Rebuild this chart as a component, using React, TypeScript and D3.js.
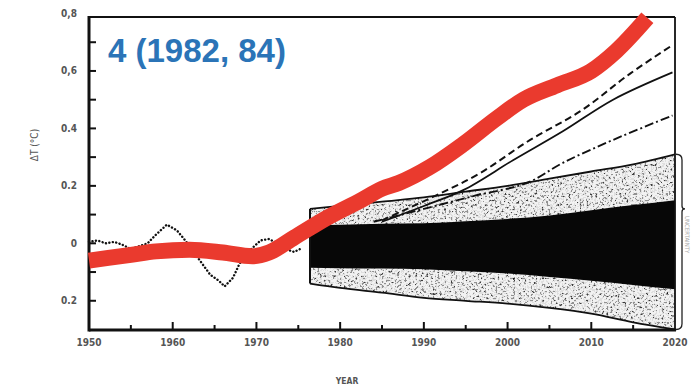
import React from "react";
import * as d3 from "d3";

// Observed temperature record (dotted)
const obsYears = [1950, 1951, 1952, 1953, 1954, 1955, 1956, 1957, 1958, 1959.3, 1960.5, 1961.5, 1962.5, 1963.5, 1964.5, 1965.5, 1966.2, 1967.2, 1968, 1969, 1970.5, 1971.5, 1972.5, 1973.5, 1974.5, 1975.2];
const obsDT = [0.005, 0.01, 0.0, 0.005, -0.005, -0.02, -0.01, 0.0, 0.03, 0.065, 0.045, 0.01, -0.03, -0.07, -0.11, -0.13, -0.15, -0.12, -0.07, -0.03, 0.01, 0.015, 0.0, -0.02, -0.03, -0.02];

// Smoothed overlay trend (red)
const redYears = [1950, 1955, 1958, 1962, 1966, 1969.5, 1971.5, 1974.5, 1978.5, 1982.5, 1985, 1987, 1990.7, 1994.7, 1998.7, 2001.9, 2005.9, 2010, 2013, 2016.7];
const redDT = [-0.06, -0.04, -0.028, -0.022, -0.032, -0.045, -0.032, 0.02, 0.09, 0.15, 0.19, 0.21, 0.265, 0.345, 0.435, 0.5, 0.55, 0.6, 0.67, 0.785];

// Natural-variability fan
const fanYears = [1976.4, 1980, 1985, 1990, 1995, 2000, 2005, 2010, 2015, 2020];
const upperEnv = [0.12, 0.13, 0.145, 0.16, 0.18, 0.2, 0.225, 0.25, 0.275, 0.31];
const blackTop = [0.063, 0.065, 0.068, 0.07, 0.077, 0.085, 0.097, 0.115, 0.133, 0.15];
const blackBottom = [-0.085, -0.087, -0.088, -0.09, -0.097, -0.105, -0.117, -0.13, -0.145, -0.16];
const lowerEnv = [-0.14, -0.155, -0.172, -0.19, -0.2, -0.21, -0.225, -0.245, -0.275, -0.3];

// Projection scenarios
const dashYears = [1985, 1988, 1992, 1996.7, 2002.7, 2008.7, 2014.6, 2019.7];
const dashDT = [0.08, 0.12, 0.174, 0.244, 0.36, 0.46, 0.59, 0.69];
const solidYears = [1985, 1990, 1994.7, 2000.7, 2006.6, 2012.6, 2019.7];
const solidDT = [0.075, 0.13, 0.185, 0.29, 0.39, 0.5, 0.595];
const dashDotYears = [1984, 1990, 1996, 2002.3, 2006.6, 2012.6, 2019.7];
const dashDotDT = [0.075, 0.12, 0.165, 0.21, 0.28, 0.36, 0.445];

// Axis labels
const yTickValues = [0.8, 0.6, 0.4, 0.2, 0, -0.2];
const yTickLabels = ["0,8", "0,6", "0.4", "0.2", "0", "0.2"];
const xTickValues = [1950, 1960, 1970, 1980, 1990, 2000, 2010, 2020];
const xTickLabels = ["1950", "1960", "1970", "1980", "1990", "2000", "2010", "2020"];

const W = 692;
const H = 391;
const LEFT = 89;
const RIGHT = 675;
const TOP = 17;
const BOTTOM = 330;

export default function App() {
  const x = d3.scaleLinear().domain([1950, 2020]).range([LEFT, RIGHT]);
  const y = d3.scaleLinear().domain([-0.3, 0.8]).range([329.5, 13.5]);

  const line = (xs: number[], ys: number[], curve: any = d3.curveCatmullRom) =>
    d3
      .line<number>()
      .x((_, i) => x(xs[i]))
      .y((d) => y(d))
      .curve(curve)(ys) || "";

  const band = (lo: number[], hi: number[]) =>
    d3
      .area<number>()
      .x((_, i) => x(fanYears[i]))
      .y0((_, i) => y(lo[i]))
      .y1((d) => y(d))
      .curve(d3.curveMonotoneX)(hi) || "";

  const outer = band(lowerEnv, upperEnv);
  const inner = band(blackBottom, blackTop);

  const yMinor = d3.range(-0.2, 0.75, 0.1);
  const xMinor = d3.range(1955, 2020, 5);
  const axisFont = "'DejaVu Sans Condensed', 'Liberation Sans Narrow', 'Liberation Sans', sans-serif";

  return (
    <svg width={W} height={H} style={{ position: "absolute", left: 0, top: 0, background: "#fff" }}>
      <defs>
        <filter id="speck" x="0" y="0" width="1" height="1" filterUnits="objectBoundingBox">
          <feTurbulence type="fractalNoise" baseFrequency="0.45" numOctaves="3" seed="11" result="n" />
          <feColorMatrix in="n" type="matrix" values="0 0 0 0 0  0 0 0 0 0  0 0 0 0 0  1 0 0 0 0" result="a" />
          <feComponentTransfer in="a">
            <feFuncA type="discrete" tableValues="0 0 0 0 0.08 0.4 0.75 0.9" />
          </feComponentTransfer>
        </filter>
        <clipPath id="outerClip">
          <path d={outer} />
        </clipPath>
      </defs>

      {/* fan: stippled envelope, black core */}
      <path d={outer} fill="#f2f2f2" />
      <g clipPath="url(#outerClip)">
        <rect x={x(1976)} y={y(0.35)} width={x(2020) - x(1976)} height={y(-0.32) - y(0.35)} fill="#000" filter="url(#speck)" />
      </g>
      <path d={inner} fill="#070707" />
      <path d={line(fanYears, upperEnv, d3.curveMonotoneX)} fill="none" stroke="#111" strokeWidth={1.8} />
      <path d={line(fanYears, lowerEnv, d3.curveMonotoneX)} fill="none" stroke="#111" strokeWidth={1.8} />
      <line x1={x(1976.4)} x2={x(1976.4)} y1={y(upperEnv[0])} y2={y(lowerEnv[0])} stroke="#111" strokeWidth={2} />

      {/* scenario projections */}
      <path d={line(dashYears, dashDT)} fill="none" stroke="#111" strokeWidth={2} strokeDasharray="7 4" />
      <path d={line(solidYears, solidDT)} fill="none" stroke="#111" strokeWidth={1.8} />
      <path d={line(dashDotYears, dashDotDT)} fill="none" stroke="#111" strokeWidth={1.9} strokeDasharray="9 3 2 3" />

      {/* observed record */}
      <path d={line(obsYears, obsDT, d3.curveLinear)} fill="none" stroke="#111" strokeWidth={2.4} strokeDasharray="0.1 3.4" strokeLinecap="round" />

      {/* frame */}
      <line x1={LEFT} x2={RIGHT} y1={TOP} y2={TOP} stroke="#111" strokeWidth={1.8} />
      <line x1={RIGHT} x2={RIGHT} y1={TOP} y2={BOTTOM} stroke="#111" strokeWidth={1.8} />
      <line x1={LEFT} x2={RIGHT + 1} y1={BOTTOM} y2={BOTTOM} stroke="#111" strokeWidth={3} />
      <line x1={LEFT} x2={LEFT} y1={TOP - 1} y2={BOTTOM + 1.5} stroke="#111" strokeWidth={3} />

      {yMinor.map((v) => (
        <line key={"yt" + v.toFixed(1)} x1={LEFT} x2={LEFT + 7} y1={y(v)} y2={y(v)} stroke="#111" strokeWidth={2} />
      ))}
      {xMinor.map((v) => (
        <line key={"xt" + v} x1={x(v)} x2={x(v)} y1={BOTTOM} y2={BOTTOM - (v % 10 === 0 ? 8 : 5)} stroke="#111" strokeWidth={2} />
      ))}

      {/* bracket at the right of the fan */}
      <path
        d={`M ${RIGHT + 1} ${y(0.31)} Q ${RIGHT + 7} ${y(0.31)} ${RIGHT + 7} ${y(0.29)} L ${RIGHT + 7} ${y(0.13)} Q ${RIGHT + 7} ${y(0.12)} ${RIGHT + 10} ${y(0.12)} Q ${RIGHT + 7} ${y(0.12)} ${RIGHT + 7} ${y(0.11)} L ${RIGHT + 7} ${y(-0.28)} Q ${RIGHT + 7} ${y(-0.3)} ${RIGHT + 1} ${y(-0.3)}`}
        fill="none"
        stroke="#222"
        strokeWidth={1.3}
      />
      <text x={RIGHT + 10} y={y(0.03)} transform={`rotate(90 ${RIGHT + 10} ${y(0.03)})`} fontFamily={axisFont} fontSize={6} fill="#aaa" textAnchor="middle">
        UNCERTAINTY
      </text>

      {/* red trend */}
      <path d={line(redYears, redDT, d3.curveMonotoneX)} fill="none" stroke="#ea3a2e" strokeWidth={16} strokeLinecap="butt" strokeLinejoin="round" />

      {/* axis labels */}
      {yTickValues.map((v, i) => (
        <text key={"yl" + i} x={77} y={y(v) + 3.5} textAnchor="end" fontFamily={axisFont} fontSize={10} fontWeight="bold" fill="#555">
          {yTickLabels[i]}
        </text>
      ))}
      {xTickValues.map((v, i) => (
        <text key={"xl" + i} x={x(v)} y={346} textAnchor="middle" fontFamily={axisFont} fontSize={10} fontWeight="bold" fill="#555" style={{ fontStretch: "condensed" }}>
          {xTickLabels[i]}
        </text>
      ))}
      <text x={347} y={384} textAnchor="middle" fontFamily={axisFont} fontSize={8.5} fontWeight="bold" fill="#555">
        YEAR
      </text>
      <text x={38} y={145} transform="rotate(-90 38 145)" textAnchor="middle" fontFamily={axisFont} fontSize={10} fill="#555">
        ΔT (°C)
      </text>

      <text x={108} y={62} fontFamily="'Liberation Sans', Arial, sans-serif" fontSize={33} fontWeight="bold" fill="#2b74b7">
        4 (1982, 84)
      </text>
    </svg>
  );
}
